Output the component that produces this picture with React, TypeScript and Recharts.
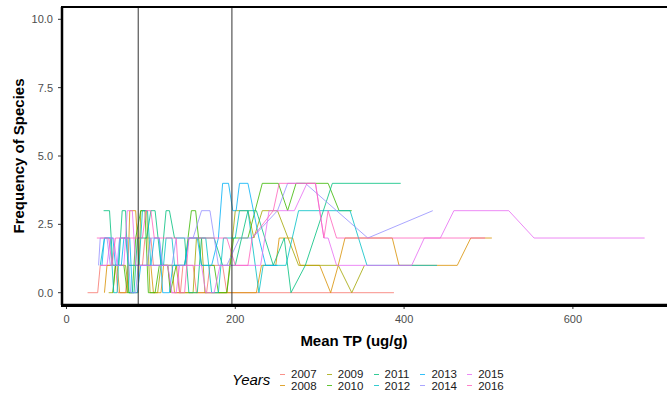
import React from "react";
import {
  LineChart,
  Line,
  XAxis,
  YAxis,
  ReferenceLine,
} from "recharts";

// [mean TP (ug/g), frequency of species] per sampling year
const y2007 = [
  [25, 0], [37, 0], [40, 1], [58, 1], [61, 0], [70, 0], [73, 1], [90, 1], [93, 2], [100, 2],
  [103, 1], [120, 1], [124, 0], [135, 0], [138, 1], [150, 1], [154, 0], [166, 0], [170, 1],
  [185, 1], [190, 0], [388, 0],
];
const y2008 = [
  [45, 0], [48, 1], [60, 1], [63, 0], [72, 0], [75, 3], [82, 3], [86, 1], [100, 1], [103, 0],
  [112, 0], [115, 1], [125, 1], [128, 0], [225, 0], [231, 1], [248, 1], [252, 2], [268, 2],
  [277, 1], [300, 1], [313, 0], [322, 1], [330, 2], [386, 2], [394, 1], [463, 1], [479, 2],
  [504, 2],
];
const y2009 = [
  [50, 0], [55, 0], [58, 1], [70, 1], [74, 0], [85, 0], [88, 3], [95, 3], [99, 0], [108, 0],
  [112, 1], [130, 1], [134, 0], [150, 0], [154, 2], [160, 2], [164, 0], [190, 0], [200, 3],
  [215, 3], [222, 2], [232, 3], [250, 3], [275, 1], [322, 1], [338, 0], [353, 1],
];
const y2010 = [
  [55, 0], [58, 1], [68, 1], [72, 0], [78, 0], [82, 2], [88, 3], [93, 3], [97, 0], [105, 0],
  [110, 1], [120, 1], [123, 0], [130, 1], [140, 1], [148, 3], [153, 3], [160, 1], [175, 1],
  [180, 0], [190, 0], [198, 2], [215, 2], [232, 4], [251, 4], [262, 3], [272, 4], [310, 4],
  [323, 3], [338, 3],
];
const y2011 = [
  [44, 3], [51, 3], [55, 1], [62, 1], [66, 3], [70, 3], [74, 0], [80, 0], [84, 2], [95, 2],
  [100, 3], [105, 3], [112, 1], [118, 3], [122, 3], [128, 2], [140, 2], [145, 0], [155, 0],
  [160, 2], [175, 2], [185, 1], [200, 1], [215, 3], [225, 3], [245, 1], [258, 2], [266, 0],
  [283, 1], [315, 4], [396, 4],
];
const y2012 = [
  [40, 1], [45, 2], [52, 2], [56, 0], [60, 0], [63, 2], [70, 2], [74, 1], [86, 1], [90, 3],
  [96, 3], [100, 1], [115, 1], [118, 2], [125, 2], [128, 1], [140, 1], [145, 2], [165, 2],
  [172, 0], [180, 0], [186, 2], [200, 2], [205, 3], [215, 3], [228, 0], [233, 1], [260, 1],
  [275, 3], [336, 3], [356, 1], [439, 1],
];
const y2013 = [
  [42, 1], [45, 2], [55, 2], [58, 1], [65, 1], [68, 2], [75, 2], [78, 0], [84, 0], [88, 1],
  [100, 1], [104, 2], [110, 2], [114, 0], [122, 0], [126, 1], [140, 1], [145, 2], [155, 2],
  [160, 1], [172, 1], [180, 2], [185, 4], [192, 4], [197, 3], [201, 3], [205, 4], [215, 4],
  [228, 2], [236, 1], [250, 1],
];
const y2014 = [
  [38, 1], [40, 2], [48, 2], [52, 1], [60, 1], [63, 2], [72, 2], [76, 0], [82, 0], [85, 1],
  [95, 1], [100, 2], [110, 2], [114, 1], [125, 1], [130, 2], [150, 2], [160, 3], [170, 3],
  [180, 1], [190, 1], [205, 2], [220, 2], [250, 3], [262, 4], [283, 4], [357, 2], [434, 3],
];
const y2015 = [
  [40, 1], [48, 1], [52, 2], [56, 2], [60, 1], [68, 1], [72, 3], [78, 3], [82, 1], [120, 1],
  [125, 0], [130, 0], [134, 1], [160, 1], [165, 0], [175, 0], [182, 1], [230, 1], [240, 3],
  [270, 3], [285, 4], [295, 4], [305, 2], [310, 2], [320, 1], [409, 1], [424, 2], [443, 2],
  [459, 3], [524, 3], [554, 2], [685, 2],
];
const y2016 = [
  [36, 2], [50, 2], [54, 1], [58, 2], [90, 2], [94, 3], [100, 3], [104, 2], [130, 2], [134, 0],
  [140, 0], [145, 2], [190, 2], [200, 1], [215, 1], [220, 2], [245, 3], [252, 4], [295, 4],
  [305, 2], [310, 3], [320, 2], [496, 2],
];

const years = ["2007", "2008", "2009", "2010", "2011", "2012", "2013", "2014", "2015", "2016"];
const yearData = [y2007, y2008, y2009, y2010, y2011, y2012, y2013, y2014, y2015, y2016];
const palette = [
  "#F8766D", "#D89000", "#A3A500", "#39B600", "#00BF7D",
  "#00BFC4", "#00B0F6", "#9590FF", "#E76BF3", "#FF62BC",
];
const xTicks = [0, 200, 400, 600];
const yTicks = [0, 2.5, 5, 7.5, 10];
const cutoffs = [85, 196];

const font = "'Liberation Sans', Arial, sans-serif";

const series = yearData.map((pts) => pts.map(([x, y]) => ({ x, y })));

const App = () => {
  return (
    <div
      style={{
        position: "absolute",
        left: 0,
        top: 0,
        width: 667,
        height: 395,
        overflow: "hidden",
        background: "#fff",
        fontFamily: font,
      }}
    >
      <LineChart
        width={700}
        height={395}
        margin={{ top: 7, right: 27.5, left: 0, bottom: 60 }}
        style={{ fontFamily: font }}
      >
        <XAxis
          dataKey="x"
          type="number"
          domain={[-5.3, 718]}
          ticks={xTicks}
          allowDataOverflow
          height={30}
          tickSize={4}
          tickMargin={6}
          axisLine={{ stroke: "#000", strokeWidth: 2.5 }}
          tickLine={{ stroke: "#333" }}
          tick={{ fill: "#4d4d4d", fontSize: 11 }}
        />
        <YAxis
          dataKey="y"
          type="number"
          domain={[-0.45, 10.45]}
          ticks={yTicks}
          allowDataOverflow
          width={62}
          tickSize={4}
          tickMargin={5}
          tickFormatter={(v: number) => v.toFixed(1)}
          axisLine={{ stroke: "#000", strokeWidth: 2.5 }}
          tickLine={{ stroke: "#333" }}
          tick={{ fill: "#4d4d4d", fontSize: 11 }}
        />
        {series.map((d, i) => (
          <Line
            key={years[i]}
            data={d}
            dataKey="y"
            name={years[i]}
            type="linear"
            stroke={palette[i]}
            strokeWidth={1}
            strokeOpacity={0.8}
            dot={false}
            activeDot={false}
            isAnimationActive={false}
          />
        ))}
        {cutoffs.map((c) => (
          <ReferenceLine key={c} x={c} stroke="#333" strokeWidth={1} />
        ))}
      </LineChart>

      {/* panel border */}
      <div
        style={{
          position: "absolute",
          left: 61,
          top: 6,
          width: 700,
          height: 297,
          border: "2.5px solid #000",
          pointerEvents: "none",
        }}
      />

      <div
        style={{
          position: "absolute",
          left: 0,
          width: 708,
          top: 332,
          textAlign: "center",
          fontSize: 15,
          fontWeight: "bold",
          color: "#000",
        }}
      >
        Mean TP (ug/g)
      </div>
      <div
        style={{
          position: "absolute",
          left: 18,
          top: 156,
          transform: "translate(-50%, -50%) rotate(-90deg)",
          whiteSpace: "nowrap",
          fontSize: 15,
          fontWeight: "bold",
          color: "#000",
        }}
      >
        Frequency of Species
      </div>

      {/* legend */}
      <div
        style={{
          position: "absolute",
          left: 232,
          top: 371,
          fontSize: 15,
          fontStyle: "italic",
          color: "#000",
        }}
      >
        Years
      </div>
      {years.map((yr, i) => {
        const col = Math.floor(i / 2);
        const row = i % 2;
        return (
          <div
            key={yr}
            style={{
              position: "absolute",
              left: 280 + col * 46.8,
              top: 368 + row * 11.5,
              height: 12,
              display: "flex",
              alignItems: "center",
              fontSize: 11.5,
              lineHeight: "12px",
              color: "#1a1a1a",
            }}
          >
            <span
              style={{
                display: "inline-block",
                width: 5,
                height: 1,
                background: palette[i],
                opacity: 0.8,
                marginRight: 6,
              }}
            />
            {yr}
          </div>
        );
      })}
    </div>
  );
};

export default App;
